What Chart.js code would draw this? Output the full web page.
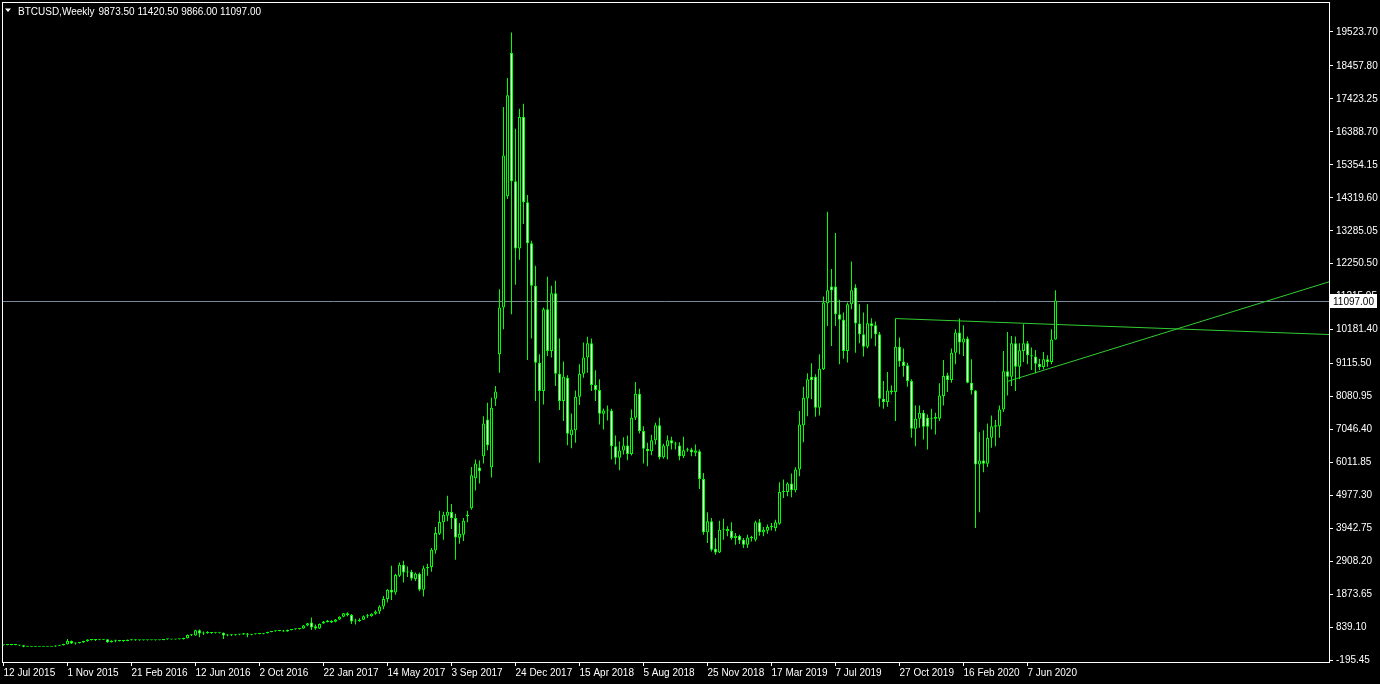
<!DOCTYPE html>
<html lang="en">
<head>
<meta charset="UTF-8">
<title>BTCUSD,Weekly</title>
<script src="https://cdn.jsdelivr.net/npm/chart.js"></script>
<style>
    html, body { margin: 0; padding: 0; background: #000; overflow: hidden; }
    #wrap { width: 1380px; height: 684px; }
</style>
</head>
<body>
<div id="wrap"><canvas id="chart" width="1380" height="684"></canvas></div>
<script>
    const symbolTitle = "BTCUSD,Weekly";

    // weekly candles, index 0 = week of 12 Jul 2015
    const opens = [
        285,292,290,295,288,282,232,240,238,242,237,240,
        238,240,268,282,316,418,335,355,372,418,460,445,
        462,458,468,378,428,425,418,415,458,452,440,438,
        440,438,440,442,446,468,470,467,472,470,500,606,
        588,753,648,682,668,680,675,672,588,617,598,617,
        620,655,612,627,638,640,659,700,721,733,742,714,
        764,786,790,806,900,994,880,805,965,1010,1050,1020,
        1090,1180,1290,1235,1030,1042,1086,1190,1196,1268,1342,1495,
        1736,2020,1940,2460,2805,2565,2586,2358,2524,2022,2700,2734,
        3258,3782,4138,4348,4464,4274,3656,3750,4328,4578,5520,5856,
        6212,7366,5868,8016,9408,10876,14366,18864,14838,12732,16850,14178,
        12890,11558,9148,8258,10824,9516,11326,8802,7942,8676,6874,7030,
        8078,8802,9306,9754,8446,8288,7544,7648,7650,6528,6162,6390,
        6548,6286,7418,8174,7000,6444,6370,6716,7188,6182,6528,6716,
        6612,6548,6214,6402,6424,6318,6370,5500,3824,4170,3310,3196,
        3908,3856,3878,3646,3720,3594,3436,3646,3594,4138,3824,3878,
        3992,3960,4096,5092,5092,5354,5146,5794,7188,8026,8708,8708,
        7734,8938,11014,11536,11536,10666,10490,9516,10982,11506,10374,10040,
        9650,10384,10322,10040,8016,7912,8278,8226,9650,9180,9064,8572,
        7074,7388,7576,7420,7420,7440,7388,8100,8750,8604,9462,10090,
        9778,9904,8520,8278,5952,6078,5974,6790,7136,7156,7680,8876,
        8708,9756,9022,9514,9756,9378,9338,9116,9012,9254,9170,9873.5
    ];
    const highs = [
        300,298,300,298,290,288,245,248,245,246,242,244,
        242,274,290,330,480,430,372,382,422,468,476,470,
        468,472,472,440,458,432,426,462,468,460,446,446,
        446,443,447,450,472,476,478,476,482,522,620,632,
        770,775,711,720,688,692,686,680,628,626,632,632,
        666,665,634,645,648,666,710,730,746,752,760,780,
        795,800,826,915,980,1151,932,962,1046,1075,1068,1110,
        1196,1296,1320,1265,1112,1126,1216,1265,1290,1380,1540,1830,
        2045,2775,2525,2880,2935,2755,2650,2565,2566,2776,2838,3330,
        3990,4505,4474,4976,4714,4410,4116,4274,4505,5878,6108,6076,
        7470,7890,8048,8414,11454,17164,18076,19502,16484,17112,17270,14410,
        12974,12186,9410,10878,11840,11558,11714,9902,9180,8750,7554,8278,
        9094,9776,9964,9902,8906,8624,7712,7806,7700,6864,6674,6810,
        6864,7680,8540,8330,7156,6632,6884,7262,7418,6600,6864,6820,
        6670,6650,6820,6476,6476,6580,6420,5690,4452,4274,3646,4192,
        4254,4014,4138,3804,3750,3650,3750,3720,4190,4240,3990,4070,
        4118,4222,5396,5480,5396,5668,5870,7628,8392,8812,9126,8780,
        9410,11224,13884,12082,13214,11118,10720,11034,12322,11610,10982,10720,
        10982,10542,10436,10112,8572,8856,8434,10530,9934,9588,9148,8624,
        7806,7806,7660,7524,7700,7576,8498,9232,8834,9590,10196,10530,
        10322,9966,9254,8290,6968,7030,7240,7492,7346,7806,9514,10112,
        9986,9966,9756,10354,9830,9620,9546,9274,9484,9378,10196,11420.5
    ];
    const lows = [
        275,282,284,282,262,220,225,232,228,234,232,235,
        234,238,262,278,310,320,310,340,358,395,432,415,
        440,445,365,370,378,400,395,410,432,425,428,430,
        434,430,435,438,440,455,462,460,465,465,495,572,
        580,535,606,640,640,655,650,481,568,570,585,600,
        612,530,600,618,625,630,650,688,705,720,705,705,
        750,770,780,800,880,763,770,790,955,995,978,1008,
        1074,1160,1195,950,935,1020,1074,1140,1180,1240,1265,1415,
        1625,1705,1865,2420,2250,2420,2315,2300,1980,1812,2460,2588,
        3152,3740,3594,4170,3928,2964,3466,3552,4140,4536,5134,5354,
        5982,6400,5542,7786,8834,10196,14284,10666,11590,12376,13500,9232,
        9902,7942,6004,7838,9358,9306,8414,7660,7314,6560,6466,6632,
        7816,8676,8834,8256,7942,7210,7050,7334,6108,5952,5774,6266,
        6086,6234,7346,6926,5982,5900,6244,6580,6108,6130,6110,6420,
        6420,6090,6160,6350,6214,6214,5186,3750,3490,3226,3122,3180,
        3594,3700,3594,3436,3460,3330,3330,3540,3540,3714,3700,3780,
        3884,3856,4064,4904,4960,4924,5080,5584,6654,7470,7996,7450,
        7492,8920,10300,9672,10300,9094,9274,9150,10826,9462,9756,9338,
        9600,9902,9662,7764,7702,7764,8152,7314,9022,8708,8390,6790,
        6528,7104,6738,6424,7052,6894,7314,7806,8226,8520,9096,9410,
        9358,8498,8152,3960,4454,5710,5878,6476,6528,6790,7596,8120,
        8414,8256,8624,9168,9094,8916,8814,8916,8938,9022,9094,9866
    ];
    const closes = [
        292,290,295,288,272,232,240,238,242,237,240,238,
        240,268,282,322,418,335,355,365,418,460,445,462,
        458,468,378,428,425,418,415,458,452,440,438,440,
        438,440,442,446,468,470,467,472,470,512,606,596,
        753,648,682,668,680,675,680,588,617,598,617,628,
        658,612,627,638,640,659,700,721,733,742,714,764,
        786,790,806,900,972,837,805,952,1030,1062,995,1092,
        1180,1286,1235,1030,1042,1086,1190,1196,1268,1342,1495,1736,
        2020,1940,2490,2805,2565,2570,2378,2524,2022,2700,2734,3280,
        3802,4148,4378,4472,4264,3666,3782,4190,4378,5616,5982,5740,
        7240,6558,7734,8246,10876,15646,17532,14838,12732,16850,14178,12890,
        11558,9148,8258,10824,9516,11326,8802,7942,8706,6916,7050,8078,
        8802,9306,9754,8446,8288,7544,7648,7652,6528,6162,6390,6548,
        6286,7418,8174,7000,6444,6370,6716,7188,6182,6548,6716,6612,
        6580,6214,6402,6424,6340,6392,5500,3824,4170,3280,3196,3908,
        3930,3930,3646,3720,3572,3436,3666,3650,4138,3824,3908,3992,
        3996,4138,5092,5096,5354,5146,5794,7210,8046,8624,8604,7734,
        8960,11034,11422,11422,10666,10490,9516,10982,11422,10374,10040,9650,
        10384,10300,10040,8016,7912,8278,8226,9650,9180,9044,8572,7074,
        7388,7576,7136,7136,7420,7388,8120,8730,8604,9462,10090,9778,
        9904,8520,8278,5952,6078,5974,6790,7156,7188,7680,8876,8708,
        9756,9022,9536,9756,9378,9338,9116,9012,9254,9170,9874,11097
    ];

    // time axis labels, one every 16 weeks
    const dateTickIndex = [0, 16, 32, 48, 64, 80, 96, 112, 128, 144, 160, 176, 192, 208, 224, 240, 256];
    const dateLabels = ["12 Jul 2015", "1 Nov 2015", "21 Feb 2016", "12 Jun 2016", "2 Oct 2016",
        "22 Jan 2017", "14 May 2017", "3 Sep 2017", "24 Dec 2017", "15 Apr 2018", "5 Aug 2018",
        "25 Nov 2018", "17 Mar 2019", "7 Jul 2019", "27 Oct 2019", "16 Feb 2020", "7 Jun 2020"];

    // price axis labels as printed by the terminal
    const priceTicks = [19523.70, 18457.80, 17423.25, 16388.70, 15354.15, 14319.60, 13285.05,
        12250.50, 11215.95, 10181.40, 9115.50, 8080.95, 7046.40, 6011.85, 4977.30, 3942.75,
        2908.20, 1873.65, 839.10, -195.45];

    // hand drawn trend lines: [week index, price]
    const trendFlat = [[223, 10531], [331.375, 10030]];
    const trendRise = [[250.8, 8551], [331.375, 11683]];

    const FONT = "'Liberation Sans', Arial, sans-serif";
    const CANDLE = "#00ff00";

    const bodies = [], wicks = [], bodyFill = [];
    for (let i = 0; i < opens.length; i++) {
        bodies.push({ x: i, y: [opens[i], closes[i]] });
        wicks.push({ x: i, y: [lows[i], highs[i]] });
        bodyFill.push(closes[i] >= opens[i] ? "#000000" : "#ffffff");
    }
    const last = opens.length - 1;

    const terminalLook = {
        id: "terminalLook",
        beforeDraw(chart) {
            const ctx = chart.ctx;
            ctx.save();
            ctx.fillStyle = "#000";
            ctx.fillRect(0, 0, chart.width, chart.height);
            ctx.restore();
        },
        beforeDatasetsDraw(chart) {
            // bid line
            const { ctx, chartArea: a, scales: { y } } = chart;
            const py = Math.round(y.getPixelForValue(closes[last])) + 0.5;
            ctx.save();
            ctx.strokeStyle = "#778899";
            ctx.lineWidth = 1;
            ctx.beginPath();
            ctx.moveTo(a.left, py);
            ctx.lineTo(a.right, py);
            ctx.stroke();
            ctx.restore();
        },
        afterDraw(chart) {
            const { ctx, chartArea: a, scales: { y } } = chart;
            ctx.save();
            // frame
            ctx.strokeStyle = "#ffffff";
            ctx.lineWidth = 1;
            ctx.strokeRect(a.left + 0.5, a.top + 0.5, a.right - a.left, a.bottom - a.top);

            // price label box
            const py = Math.round(y.getPixelForValue(closes[last])) + 0.5;
            ctx.fillStyle = "#ffffff";
            ctx.fillRect(a.right + 1, py - 7.5, 47, 14);
            ctx.beginPath();
            ctx.moveTo(a.right, py);
            ctx.lineTo(a.right + 4, py);
            ctx.strokeStyle = "#ffffff";
            ctx.stroke();
            ctx.fillStyle = "#000000";
            ctx.font = "10px " + FONT;
            ctx.textBaseline = "middle";
            ctx.textAlign = "left";
            ctx.fillText(closes[last].toFixed(2), a.right + 4, py + 0.5);

            // title
            ctx.fillStyle = "#ffffff";
            ctx.beginPath();
            ctx.moveTo(5, 8.5);
            ctx.lineTo(11, 8.5);
            ctx.lineTo(8, 12);
            ctx.closePath();
            ctx.fill();
            ctx.textBaseline = "alphabetic";
            ctx.fillText(symbolTitle, 18, 14.5);
            const w = ctx.measureText(symbolTitle).width;
            const ohlc = [opens[last], highs[last], lows[last], closes[last]].map(v => v.toFixed(2)).join(" ");
            ctx.fillText(ohlc, 18 + w + 4, 14.5);
            ctx.restore();
        }
    };

    Chart.defaults.font.family = FONT;
    Chart.defaults.font.size = 10;

    new Chart(document.getElementById("chart"), {
        type: "bar",
        data: {
            datasets: [
                {
                    data: bodies,
                    backgroundColor: bodyFill,
                    borderColor: CANDLE,
                    borderWidth: 1,
                    borderSkipped: false,
                    barThickness: 3,
                    minBarLength: 1,
                    inflateAmount: 0,
                    grouped: false
                },
                {
                    data: wicks,
                    backgroundColor: CANDLE,
                    borderWidth: 0,
                    barThickness: 1,
                    inflateAmount: 0,
                    grouped: false
                },
                {
                    type: "line",
                    data: trendFlat.map(p => ({ x: p[0], y: p[1] })),
                    borderColor: "#32cd32",
                    borderWidth: 1,
                    pointRadius: 0,
                    tension: 0
                },
                {
                    type: "line",
                    data: trendRise.map(p => ({ x: p[0], y: p[1] })),
                    borderColor: "#32cd32",
                    borderWidth: 1,
                    pointRadius: 0,
                    tension: 0
                }
            ]
        },
        options: {
            responsive: false,
            animation: false,
            events: [],
            layout: { padding: { left: 2, top: 2, right: 0, bottom: 0 } },
            plugins: {
                legend: { display: false },
                tooltip: { enabled: false }
            },
            scales: {
                x: {
                    type: "linear",
                    min: -0.375,
                    max: 331.375,
                    offset: false,
                    bounds: "data",
                    afterBuildTicks: s => { s.ticks = dateTickIndex.map(v => ({ value: v })); },
                    afterFit: s => { s.height = 22; s.paddingLeft = 0; s.paddingRight = 0; },
                    ticks: {
                        color: "#ffffff",
                        align: "start",
                        maxRotation: 0,
                        autoSkip: false,
                        padding: 1,
                        callback: (v, i) => dateLabels[i]
                    },
                    grid: { drawOnChartArea: false, drawTicks: true, tickLength: 4, color: "#ffffff", offset: false },
                    border: { display: false }
                },
                y: {
                    type: "linear",
                    position: "right",
                    min: -242.5,
                    max: 20461,
                    bounds: "data",
                    afterBuildTicks: s => { s.ticks = priceTicks.map(v => ({ value: v })); },
                    afterFit: s => { s.width = 51; s.paddingTop = 0; s.paddingBottom = 0; },
                    ticks: {
                        color: "#ffffff",
                        padding: 3,
                        autoSkip: false,
                        callback: v => v.toFixed(2)
                    },
                    grid: { drawOnChartArea: false, drawTicks: true, tickLength: 4, color: "#ffffff" },
                    border: { display: false }
                }
            }
        },
        plugins: [terminalLook]
    });
</script>
</body>
</html>
